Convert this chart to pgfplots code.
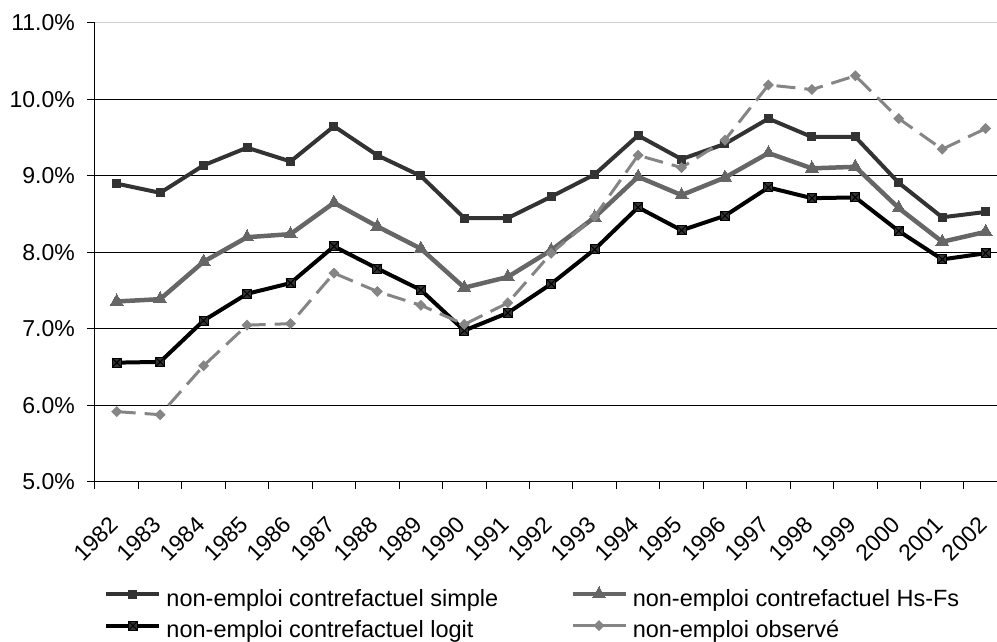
\documentclass[border=0pt]{standalone}
\usepackage{fontspec}
\setmainfont{Liberation Sans}
\usepackage{pgfplots}
\pgfplotsset{compat=1.18}

\definecolor{serA}{HTML}{333333}
\definecolor{serB}{HTML}{666666}
\definecolor{serD}{HTML}{858585}

% square with a cross, for the logit series
\pgfdeclareplotmark{boxx}{%
  \pgfpathrectangle{\pgfpoint{-\pgfplotmarksize}{-\pgfplotmarksize}}{\pgfpoint{2\pgfplotmarksize}{2\pgfplotmarksize}}%
  \pgfusepathqfillstroke
  \pgfpathmoveto{\pgfpoint{-\pgfplotmarksize}{-\pgfplotmarksize}}%
  \pgfpathlineto{\pgfpoint{\pgfplotmarksize}{\pgfplotmarksize}}%
  \pgfpathmoveto{\pgfpoint{-\pgfplotmarksize}{\pgfplotmarksize}}%
  \pgfpathlineto{\pgfpoint{\pgfplotmarksize}{-\pgfplotmarksize}}%
  \pgfusepathqstroke}

% square diamond, for the observed series
\pgfdeclareplotmark{sqdiamond}{%
  \pgfpathmoveto{\pgfpoint{0pt}{\pgfplotmarksize}}%
  \pgfpathlineto{\pgfpoint{\pgfplotmarksize}{0pt}}%
  \pgfpathlineto{\pgfpoint{0pt}{-\pgfplotmarksize}}%
  \pgfpathlineto{\pgfpoint{-\pgfplotmarksize}{0pt}}%
  \pgfpathclose
  \pgfusepathqfill}

\pgfplotsset{
  leg line/.style={legend image code/.code={%
    \draw[mark repeat=2, mark phase=2, ##1] plot coordinates {(0pt,6pt) (26.5pt,6pt) (53pt,6pt)};}},
  leg solid/.style={legend image code/.code={%
    \draw[mark repeat=2, mark phase=2, ##1, solid] plot coordinates {(0pt,6pt) (26.5pt,6pt) (53pt,6pt)};}},
}

\newcommand{\tkfont}{\fontsize{23}{27}\selectfont}
\newcommand{\lgfont}{\fontsize{23.5}{27}\selectfont}

\begin{document}
\begin{tikzpicture}
\useasboundingbox (0,0) rectangle (997pt,642pt);
\clip (0,0) rectangle (997pt,642pt);
\begin{axis}[
  at={(95pt,160pt)}, anchor=south west,
  scale only axis,
  width=912.4pt, height=459pt,
  xmin=-0.5, xmax=20.5,
  ymin=5, ymax=11,
  axis lines=left,
  axis line style={black, line width=1pt, -},
  xtick={0,...,20},
  xticklabels={1982,1983,1984,1985,1986,1987,1988,1989,1990,1991,1992,1993,1994,1995,1996,1997,1998,1999,2000,2001,2002},
  minor xtick={-0.5,0.5,...,20.5},
  major x tick style={draw=none},
  minor x tick style={black, line width=1pt},
  minor tick length=7pt,
  ytick={5,...,10},
  extra y ticks={11},
  extra y tick labels={11.0\%},
  extra y tick style={grid style={black!18, line width=1pt}},
  ytick style={black, line width=1pt},
  major tick length=8pt,
  tick align=outside,
  ymajorgrids,
  grid style={black, line width=1pt},
  /pgf/number format/assume math mode=true,
  yticklabel={\pgfmathprintnumber[fixed,fixed zerofill,precision=1]{\tick}\%},
  tick label style={font=\tkfont},
  yticklabel style={anchor=east, inner sep=0pt, xshift=-12pt},
  xticklabel style={xshift=-3pt, yshift=-31pt, rotate=45, anchor=east, inner sep=0pt},
  legend columns=2,
  legend cell align=left,
  legend style={
    at={(axis description cs:0.0102,-0.2277)}, anchor=north west,
    draw=none, fill=none, font=\lgfont, inner sep=0pt,
    nodes={inner sep=0pt, text height=17pt, text depth=5pt},
    row sep=9pt,
    /tikz/every odd column/.append style={column sep=5pt},
    /tikz/every even column/.append style={column sep=72pt},
  },
  leg line,
]
\addplot[serA, line width=4pt, mark=square*, mark size=4pt, mark options={solid, line width=0pt}] coordinates {
(0,8.90) (1,8.78) (2,9.14) (3,9.37) (4,9.19) (5,9.65) (6,9.27) (7,9.00) (8,8.45) (9,8.45) (10,8.73)
(11,9.02) (12,9.53) (13,9.22) (14,9.42) (15,9.75) (16,9.51) (17,9.51) (18,8.91) (19,8.46) (20,8.53)};
\addlegendentry{non-emploi contrefactuel simple}

\addplot[serB, line width=4.5pt, mark=triangle*, mark size=7.5pt, mark options={solid, line width=0pt}] coordinates {
(0,7.36) (1,7.39) (2,7.88) (3,8.20) (4,8.24) (5,8.65) (6,8.34) (7,8.05) (8,7.54) (9,7.68) (10,8.03)
(11,8.46) (12,8.99) (13,8.75) (14,8.98) (15,9.30) (16,9.10) (17,9.12) (18,8.58) (19,8.14) (20,8.27)};
\addlegendentry{non-emploi contrefactuel Hs-Fs}

\addplot[black, line width=4pt, mark=boxx, mark size=4.5pt, mark options={solid, fill=serA, draw=black, line width=1pt}] coordinates {
(0,6.56) (1,6.57) (2,7.11) (3,7.46) (4,7.60) (5,8.08) (6,7.79) (7,7.51) (8,6.98) (9,7.21) (10,7.59)
(11,8.04) (12,8.59) (13,8.29) (14,8.48) (15,8.85) (16,8.71) (17,8.72) (18,8.28) (19,7.91) (20,7.99)};
\addlegendentry{non-emploi contrefactuel logit}

\addplot[serD, line width=3pt, dash pattern=on 19pt off 9pt, mark=sqdiamond, mark size=5.5pt, mark options={solid, line width=0pt}, leg solid] coordinates {
(0,5.92) (1,5.88) (2,6.52) (3,7.05) (4,7.07) (5,7.73) (6,7.49) (7,7.31) (8,7.06) (9,7.34) (10,7.99)
(11,8.47) (12,9.27) (13,9.11) (14,9.47) (15,10.19) (16,10.13) (17,10.31) (18,9.75) (19,9.35) (20,9.62)};
\addlegendentry{non-emploi observé}
\end{axis}
\end{tikzpicture}
\end{document}
